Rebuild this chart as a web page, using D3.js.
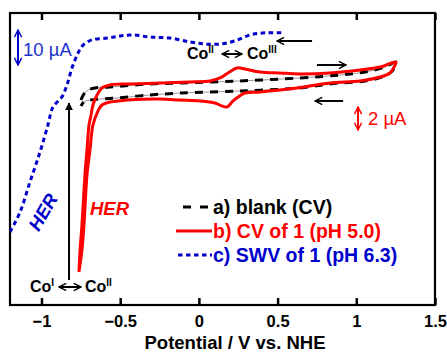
<!DOCTYPE html>
<html>
<head>
<meta charset="utf-8">
<script src="https://cdn.jsdelivr.net/npm/d3@7"></script>
<style>
  body { margin: 0; background: #fff; }
  text { font-family: "Liberation Sans", Arial, sans-serif; }
</style>
</head>
<body>
<div id="chart"></div>
<script>
const potentialTicks = [-1, -0.5, 0, 0.5, 1, 1.5]

// a) blank CV, potential (V) and current (µA)
const blankV = [-0.749, -0.730, -0.704, -0.660, -0.565, -0.311, -0.120, 0.261, 0.642, 0.897, 1.055, 1.182, 1.252,
                1.233, 1.182, 1.055, 0.833, 0.642, 0.261, -0.120, -0.311, -0.520, -0.628, -0.692, -0.730, -0.749]
const blankI = [-0.70, -0.17, 0.17, 0.35, 0.43, 0.70, 0.78, 0.96, 1.22, 1.48, 1.74, 2.17, 2.61,
                1.91, 1.39, 0.96, 0.70, 0.35, 0.09, -0.09, -0.26, -0.52, -0.61, -0.70, -0.87, -1.22]

// b) CV of 1 (pH 5.0)
const cvV = [-0.762, -0.755, -0.743, -0.724, -0.711, -0.698, -0.685, -0.673, -0.647, -0.616, -0.565, -0.457, -0.247,
             -0.056, 0.071, 0.134, 0.185, 0.242, 0.293, 0.388, 0.515, 0.642, 0.833, 1.024, 1.151, 1.252,
             1.240, 1.214, 1.151, 1.024, 0.833, 0.623, 0.515, 0.388, 0.293, 0.249, 0.217, 0.179, 0.147, 0.102,
             0.007, -0.120, -0.247, -0.457, -0.565, -0.616, -0.647, -0.673, -0.692, -0.711, -0.730, -0.743, -0.762]
const cvI = [-15.65, -13.74, -11.57, -7.22, -5.04, -2.87, -2.00, -1.13, -0.26, 0.35, 0.61, 0.70, 0.78,
             0.87, 0.96, 1.22, 1.65, 2.09, 2.00, 1.74, 1.65, 1.57, 1.65, 1.91, 2.17, 2.61,
             2.17, 1.65, 1.30, 0.96, 0.78, 0.35, 0.17, 0.00, -0.09, -0.43, -0.78, -1.30, -1.22, -0.96,
             -0.78, -0.70, -0.61, -0.70, -0.87, -1.13, -1.83, -2.87, -5.04, -7.22, -11.57, -13.74, -15.65]

// c) SWV of 1 (pH 6.3)
const swvV = [-1.2, -1.136, -1.073, -1.009, -0.959, -0.927, -0.870, -0.838, -0.806, -0.768, -0.736, -0.679,
              -0.584, -0.501, -0.419, -0.311, -0.183, -0.056, 0.039, 0.134, 0.229, 0.325, 0.420, 0.534]
const swvI = [-56, -50.3, -41.7, -33.1, -25.4, -20.3, -17.4, -14.0, -9.1, -4.9, -2.6, -1.1,
              -0.6, 0, 0.3, -0.3, -0.6, -1.7, -2.3, -2.3, -1.4, 0.3, 0.9, 0.9]

const legendLabels = ["a) blank (CV)", "b) CV of 1 (pH 5.0)", "c) SWV of 1 (pH 6.3)"]

const width = 447
const height = 354
const margin = {top: 13, right: 12, bottom: 49, left: 10}
const red = "#ff0000"
const blue = "#0000cc"

const svg = d3.select("#chart")
  .append("svg")
    .attr("width", width)
    .attr("height", height)

const x = d3.scaleLinear()
  .domain([-1.2, 1.5])
  .range([margin.left, width - margin.right])

// CV current, 2 µA = 23 px
const yCV = d3.scaleLinear()
  .domain([0, 2])
  .range([92, 69])

// SWV current, 10 µA = 35 px
const ySWV = d3.scaleLinear()
  .domain([0, 10])
  .range([36, 1])

const defs = svg.append("defs")
defs.append("clipPath").attr("id", "plot")
  .append("rect")
    .attr("x", margin.left).attr("y", margin.top)
    .attr("width", width - margin.left - margin.right)
    .attr("height", height - margin.top - margin.bottom)

function openHead(id, color){
  defs.append("marker")
    .attr("id", id)
    .attr("viewBox", "0 0 10 10")
    .attr("refX", 9).attr("refY", 5)
    .attr("markerWidth", 4.5).attr("markerHeight", 4.5)
    .attr("markerUnits", "strokeWidth")
    .attr("orient", "auto-start-reverse")
    .append("path")
      .attr("d", "M1,1 L9,5 L1,9")
      .attr("fill", "none")
      .attr("stroke", color)
      .attr("stroke-width", 1.6)
}
openHead("ob", "#000")
openHead("or", red)
openHead("ou", blue)
defs.append("marker")
  .attr("id", "tb")
  .attr("viewBox", "0 0 10 10")
  .attr("refX", 9).attr("refY", 5)
  .attr("markerWidth", 4).attr("markerHeight", 5)
  .attr("markerUnits", "strokeWidth")
  .attr("orient", "auto")
  .append("path")
    .attr("d", "M0,0 L10,5 L0,10 Z")
    .attr("fill", "#000")

// axes, ticks point inward
svg.append("g")
  .attr("transform", `translate(0, ${height - margin.bottom})`)
  .call(d3.axisBottom(x).tickValues(potentialTicks).tickSize(-7).tickPadding(10).tickFormat(d3.format("")))
  .call(g => g.select(".domain").remove())
  .call(g => g.selectAll(".tick line").attr("stroke-width", 2.5))
  .call(g => g.selectAll(".tick text")
      .attr("font-size", 16.5)
      .attr("font-weight", "bold")
      .attr("font-family", "Liberation Sans, Arial, sans-serif")
      .attr("fill", "#000"))

svg.append("g")
  .attr("transform", `translate(0, ${margin.top})`)
  .call(d3.axisTop(x).tickValues(potentialTicks).tickSize(-7).tickFormat(""))
  .call(g => g.select(".domain").remove())
  .call(g => g.selectAll(".tick line").attr("stroke-width", 2.5))

svg.append("rect")
  .attr("x", margin.left).attr("y", margin.top)
  .attr("width", width - margin.left - margin.right)
  .attr("height", height - margin.top - margin.bottom)
  .attr("fill", "none")
  .attr("stroke", "#000")
  .attr("stroke-width", 2.2)

svg.append("text")
  .attr("x", 235).attr("y", 349)
  .attr("text-anchor", "middle")
  .attr("font-size", 18.5)
  .attr("font-weight", "bold")
  .text("Potential / V vs. NHE")

// curves
const curves = svg.append("g").attr("clip-path", "url(#plot)")

const cvLine = d3.line()
  .x(d => x(d[0]))
  .y(d => yCV(d[1]))
  .curve(d3.curveCatmullRom.alpha(0.5))

const swvLine = d3.line()
  .x(d => x(d[0]))
  .y(d => ySWV(d[1]))
  .curve(d3.curveCatmullRom.alpha(0.5))

const blankData = d3.zip(blankV, blankI)
curves.append("path")
  .attr("d", cvLine(blankData))
  .attr("fill", "none")
  .attr("stroke", "#999")
  .attr("stroke-width", 1)
curves.append("path")
  .attr("d", cvLine(blankData))
  .attr("fill", "none")
  .attr("stroke", "#000")
  .attr("stroke-width", 3)
  .attr("stroke-dasharray", "8,7")

curves.append("path")
  .attr("d", cvLine(d3.zip(cvV, cvI)))
  .attr("fill", "none")
  .attr("stroke", red)
  .attr("stroke-width", 3)
  .attr("stroke-linejoin", "round")

curves.append("path")
  .attr("d", swvLine(d3.zip(swvV, swvI)))
  .attr("fill", "none")
  .attr("stroke", blue)
  .attr("stroke-width", 3)
  .attr("stroke-dasharray", "4.5,3.5")

// scan direction arrows
function arrow(x1, y1, x2, y2, color, marker, both){
  const a = svg.append("line")
    .attr("x1", x1).attr("y1", y1)
    .attr("x2", x2).attr("y2", y2)
    .attr("stroke", color)
    .attr("stroke-width", 2)
    .attr("marker-end", `url(#${marker})`)
  if (both) a.attr("marker-start", `url(#${marker})`)
}
arrow(x(0.75), yCV(2.35), x(0.935), yCV(2.35), "#000", "ob")
arrow(x(0.916), yCV(-0.78), x(0.738), yCV(-0.78), "#000", "ob")
arrow(x(0.719), ySWV(-1.43), x(0.496), ySWV(-1.43), "#000", "ob")
arrow(x(-0.825), yCV(-16.35), x(-0.825), yCV(-0.96), "#000", "tb")

// scale bars
arrow(x(1.011), yCV(-1.3), x(1.011), yCV(-3.3), red, "or", true)
arrow(x(-1.149), ySWV(1.71), x(-1.149), ySWV(-8.29), blue, "ou", true)

svg.append("text")
  .attr("x", 368).attr("y", 125)
  .attr("font-size", 18.5)
  .attr("fill", red)
  .text("2 µA")
svg.append("text")
  .attr("x", 23).attr("y", 56)
  .attr("font-size", 18.5)
  .attr("fill", "#1a2fcc")
  .text("10 µA")

// redox labels
function coLabel(xPos, yPos, ox){
  const t = svg.append("text")
    .attr("x", xPos).attr("y", yPos)
    .attr("font-size", 16)
    .attr("font-weight", "bold")
  t.append("tspan").text("Co")
  t.append("tspan")
    .attr("dy", -6.5)
    .attr("font-size", 10)
    .text(ox)
}
coLabel(187, 59, "II")
coLabel(247, 59, "III")
arrow(222, 54, 242, 54, "#000", "ob", true)
coLabel(30, 292, "I")
coLabel(85, 292, "II")
arrow(59, 287, 81, 287, "#000", "ob", true)

svg.append("text")
  .attr("x", 90).attr("y", 215)
  .attr("font-size", 18.5)
  .attr("font-weight", "bold")
  .attr("font-style", "italic")
  .attr("fill", red)
  .text("HER")
svg.append("text")
  .attr("transform", "translate(43, 212) rotate(-60)")
  .attr("text-anchor", "middle")
  .attr("dy", "0.35em")
  .attr("font-size", 18.5)
  .attr("font-weight", "bold")
  .attr("font-style", "italic")
  .attr("fill", blue)
  .text("HER")

// legend
const legend = svg.append("g")
const legendColors = ["#000", red, blue]
const legendDash = ["8,9", null, "4.5,3.5"]
const legendX1 = [183, 176, 178]
legendLabels.forEach((label, i) => {
  const yy = 207 + i * 24
  legend.append("line")
    .attr("x1", legendX1[i]).attr("x2", 212)
    .attr("y1", yy).attr("y2", yy)
    .attr("stroke", legendColors[i])
    .attr("stroke-width", 3)
    .attr("stroke-dasharray", legendDash[i])
  legend.append("text")
    .attr("x", 213).attr("y", yy + 7)
    .attr("font-size", 19.5)
    .attr("font-weight", "bold")
    .attr("fill", legendColors[i])
    .text(label)
})
</script>
</body>
</html>
